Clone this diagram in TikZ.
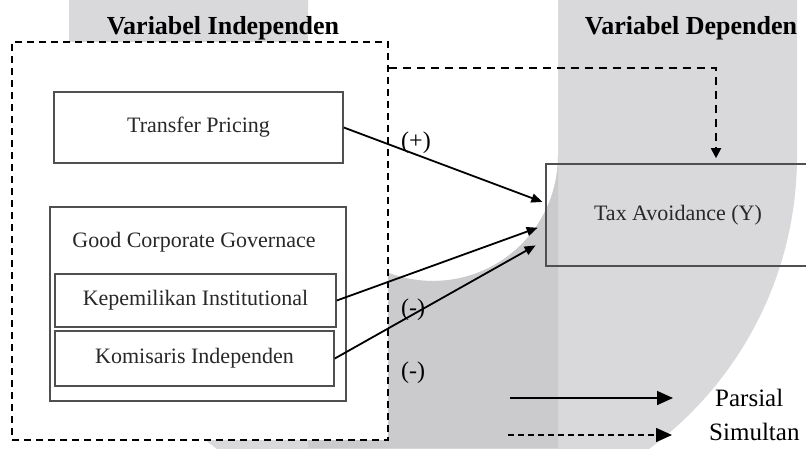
\documentclass[tikz,border=0pt]{standalone}
\usepackage{fontspec}
\setmainfont{Liberation Serif}
\usetikzlibrary{arrows.meta, positioning}
\definecolor{MarkLight}{RGB}{217,217,220}
\definecolor{MarkDark}{RGB}{203,203,206}
\definecolor{BoxLine}{RGB}{80,80,80}
\definecolor{BoxText}{RGB}{40,40,40}

\begin{document}
\begin{tikzpicture}[x=1pt, y=-1pt,
    varbox/.style={draw=BoxLine, line width=1.6pt, text=BoxText, inner sep=0pt, font=\fontsize{22}{26}\selectfont},
    boxtext/.style={text=BoxText, inner sep=0pt, font=\fontsize{22}{26}\selectfont},
    title/.style={inner sep=0pt, font=\fontsize{26}{30}\selectfont\bfseries},
    lbl/.style={inner sep=0pt, font=\fontsize{24}{28}\selectfont},
    legend/.style={inner sep=0pt, anchor=west, font=\fontsize{25}{29}\selectfont},
    partial/.style={-{Triangle[length=11pt, width=9pt]}, line width=1.8pt},
    simul/.style={-{Triangle[length=10pt, width=10pt]}, line width=1.8pt, dash pattern=on 8pt off 6pt},
    ]
    \useasboundingbox (0,0) rectangle (806,448);
    \clip (0,0) rectangle (806,448);

    % Watermark
    \fill[MarkLight] (69,0) -- (308,0) -- (308,156) arc[start angle=180, end angle=0, radius=125]
        -- (558,0) -- (797,0) -- (797,156) arc[start angle=0, end angle=180, radius=364] -- cycle;
    \fill[MarkDark] (308,156) arc[start angle=180, end angle=0, radius=125] -- (558,448) -- (308,448) -- cycle;

    % Titles
    \node[title] (indeptitle) at (223,28) {Variabel Independen};
    \node[title] (deptitle) at (691,28) {Variabel Dependen};

    % Variables
    \node[draw, line width=1.8pt, dash pattern=on 7pt off 5pt, fill=white, minimum width=376pt, minimum height=398pt] (indep) at (200,241) {};
    \node[varbox, minimum width=289pt, minimum height=71pt] (transfer) at (198.5,127.5) {Transfer Pricing};
    \node[varbox, minimum width=296pt, minimum height=194pt] (gcg) at (198,304) {};
    \node[boxtext] (gcglabel) at (194,242) {Good Corporate Governace};
    \node[varbox, minimum width=281pt, minimum height=53pt] (institutional) at (195.5,300.5) {Kepemilikan Institutional};
    \node[varbox, minimum width=279pt, minimum height=55pt] (komisaris) at (194.5,358.5) {Komisaris Independen};
    \node[varbox, minimum width=264pt, minimum height=102pt] (taxavoid) at (678,215) {Tax Avoidance (Y)};

    % Relations
    \draw[simul, shorten >=1pt] ([yshift=-27pt]indep.north east) -| ([xshift=38pt, yshift=4pt]taxavoid.north);
    \draw[partial, shorten >=3pt] (transfer.east) -- ([yshift=12pt]taxavoid.west);
    \draw[partial, shorten >=8pt] (institutional.east) -- ([yshift=-10pt]taxavoid.west);
    \draw[partial, shorten >=11pt] (komisaris.east) -- ([yshift=-25pt]taxavoid.west);

    \node[lbl] (plus) at (416,143) {(+)};
    \node[lbl] (minusA) at (413,310) {(-)};
    \node[lbl] (minusB) at (413,373) {(-)};

    % Legend
    \node[legend] (parsial) at (715,398) {Parsial};
    \node[legend] (simultan) at (709,432) {Simultan};
    \draw[-{Triangle[length=16pt, width=14pt]}, line width=1.5pt] ([xshift=-205pt]parsial.west) -- ([xshift=-42pt]parsial.west);
    \draw[-{Triangle[length=16pt, width=14pt]}, line width=1.5pt, dash pattern=on 6pt off 4pt] ([xshift=-201pt, yshift=-3pt]simultan.west) -- ([xshift=-37pt, yshift=-3pt]simultan.west);
\end{tikzpicture}
\end{document}
